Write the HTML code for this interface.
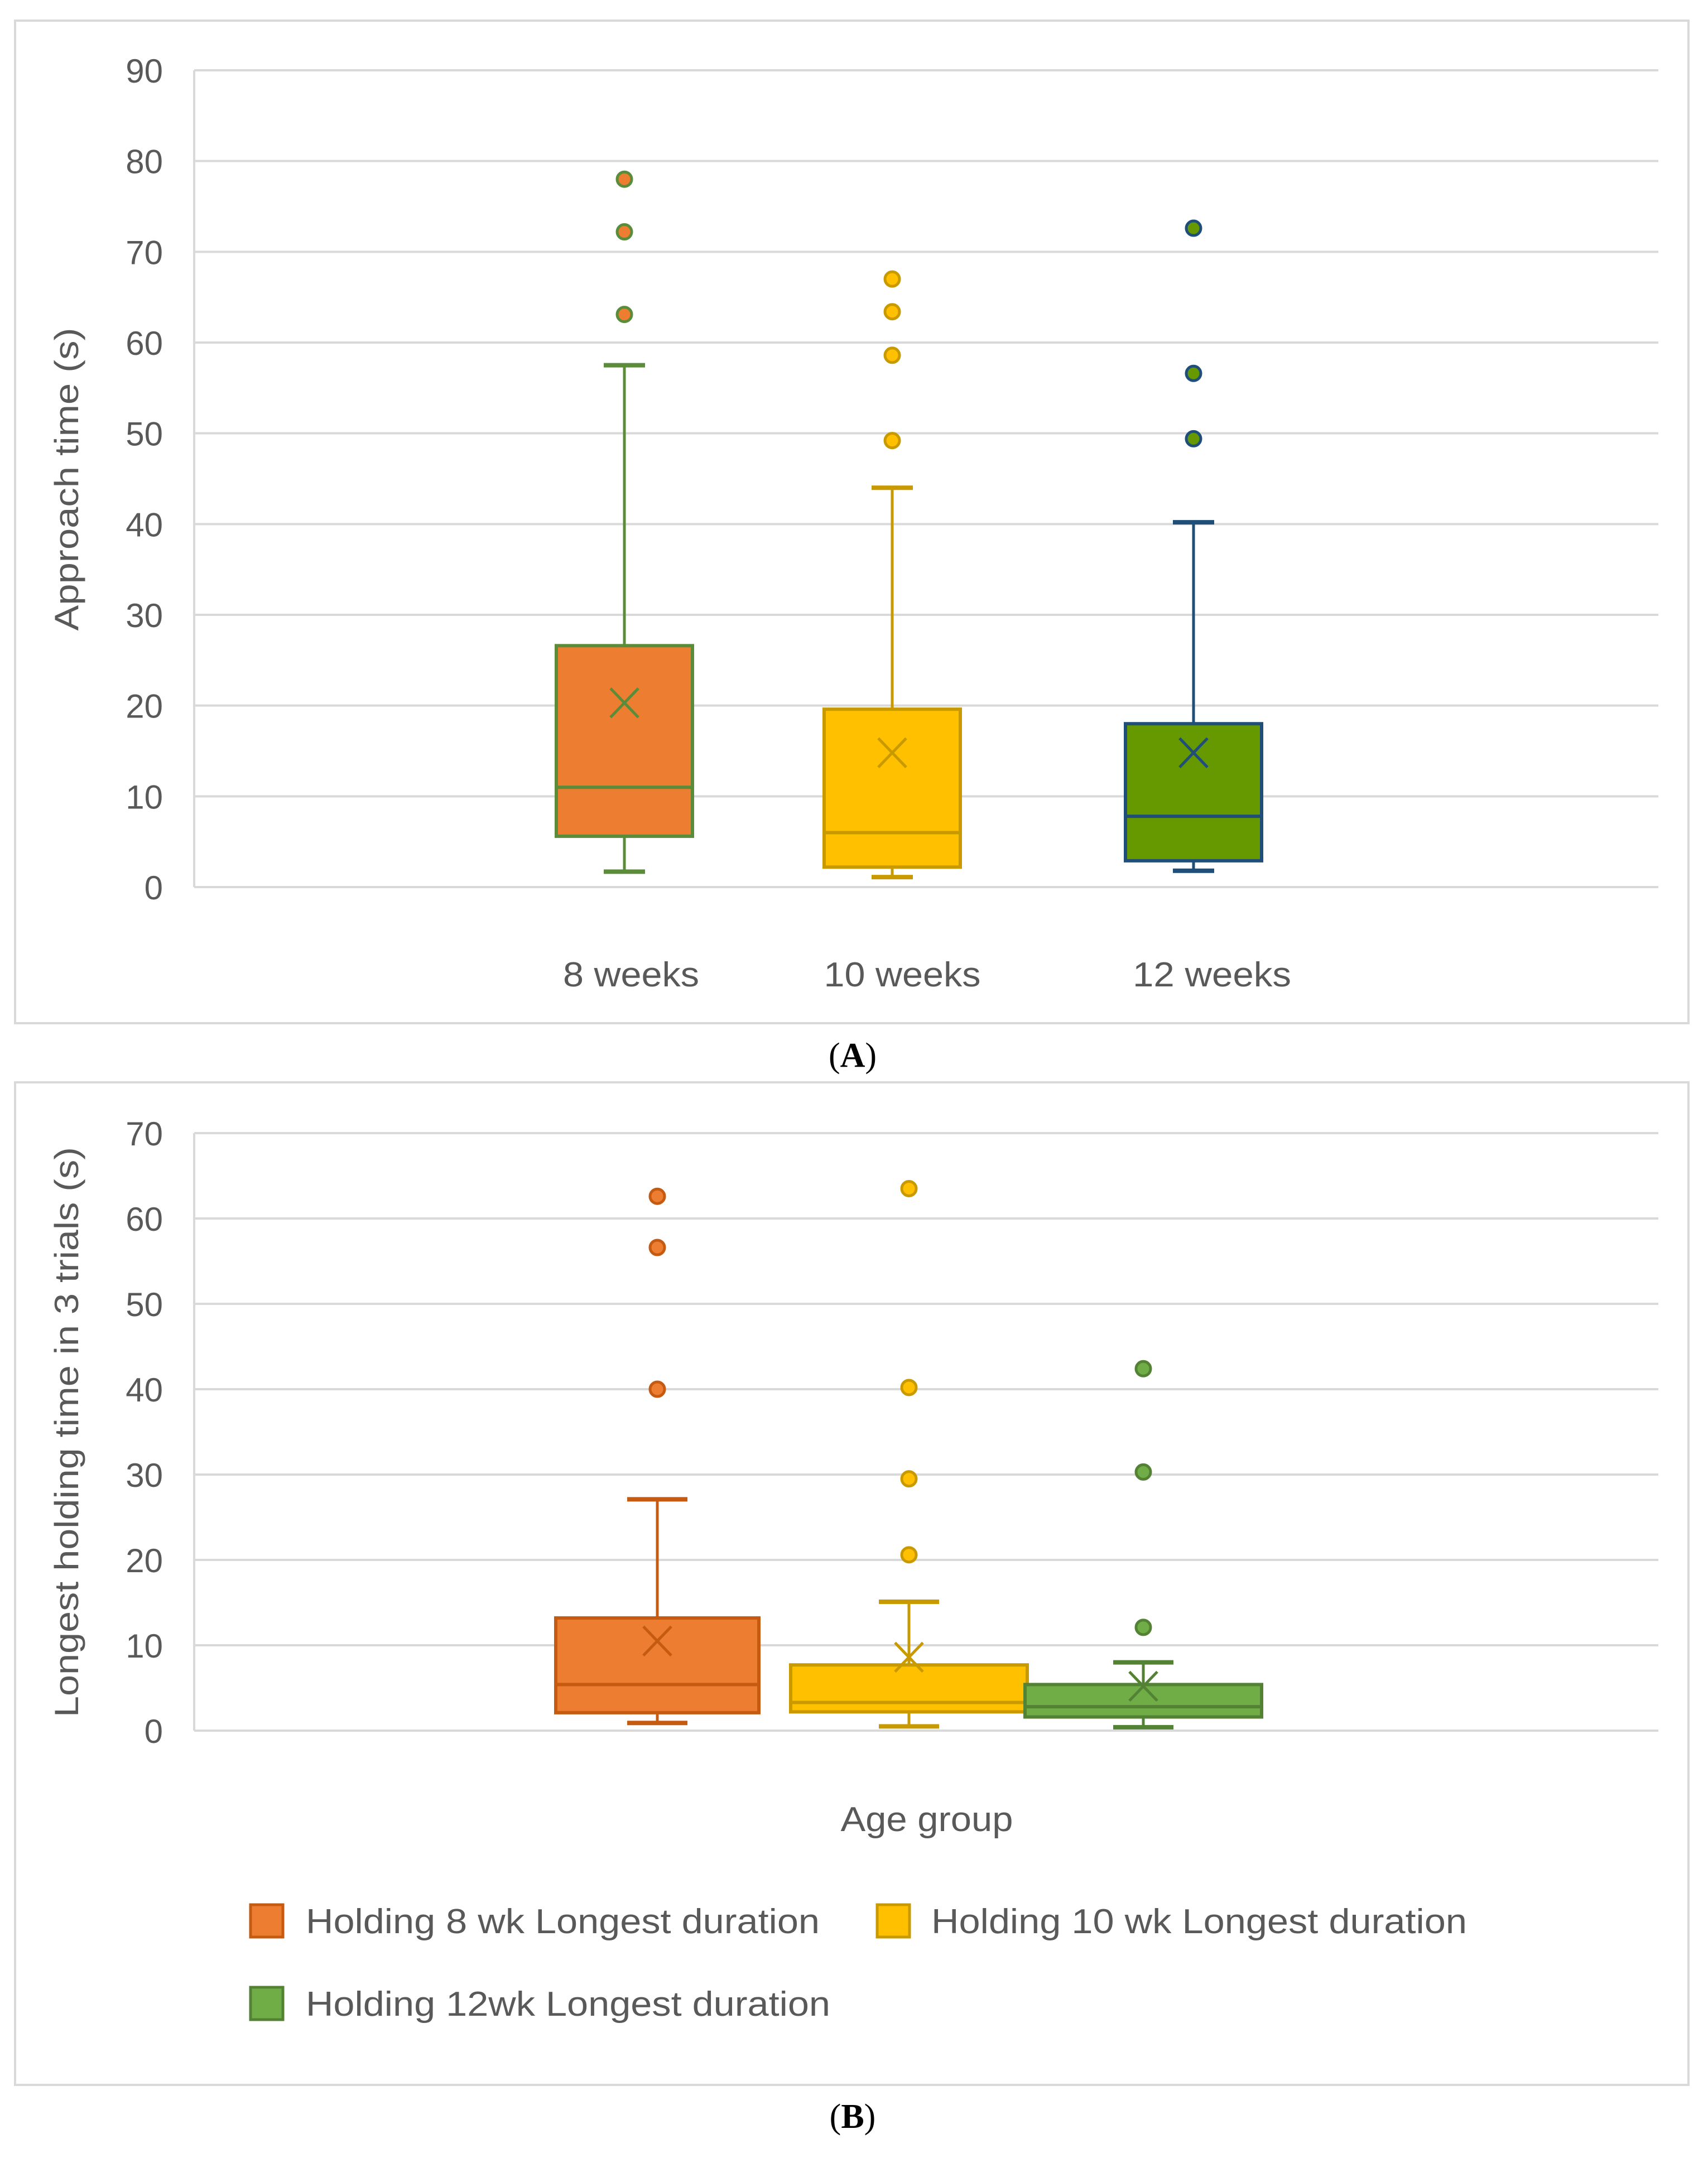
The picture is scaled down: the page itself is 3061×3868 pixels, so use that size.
<!DOCTYPE html>
<html><head><meta charset="utf-8">
<style>
html,body{margin:0;padding:0;background:#fff;}
svg{display:block;}
text{font-family:"Liberation Sans",sans-serif;}
</style></head>
<body>
<svg id="chart" width="3061" height="3868" viewBox="0 0 3061 3868" xmlns="http://www.w3.org/2000/svg">
<rect x="0" y="0" width="3061" height="3868" fill="#fff"/>
<rect x="27" y="37" width="2999" height="1797" fill="#fff" stroke="#d9d9d9" stroke-width="4"/>
<rect x="27" y="1940" width="2999" height="1797" fill="#fff" stroke="#d9d9d9" stroke-width="4"/>
<g id="gA"></g>
<g id="gB"></g>
<text x="1528" y="1912" text-anchor="middle" font-size="62" style="font-family:'Liberation Serif',serif">(<tspan font-weight="bold">A</tspan>)</text>
<text x="1528" y="3814" text-anchor="middle" font-size="62" style="font-family:'Liberation Serif',serif">(<tspan font-weight="bold">B</tspan>)</text>
<text transform="translate(140,859) rotate(-90)" text-anchor="middle" font-size="60" fill="#595959" textLength="543" lengthAdjust="spacingAndGlyphs">Approach time (s)</text>
<text transform="translate(140,2567) rotate(-90)" text-anchor="middle" font-size="60" fill="#595959" textLength="1022" lengthAdjust="spacingAndGlyphs">Longest holding time in 3 trials (s)</text>
<text x="1661" y="3282" text-anchor="middle" font-size="62" fill="#595959" textLength="309" lengthAdjust="spacingAndGlyphs">Age group</text>
<g>
<g><rect x="449" y="3414" width="58" height="58" fill="#ED7D31" stroke="#C55A11" stroke-width="5"/><text x="548" y="3465" font-size="62" fill="#595959" textLength="921" lengthAdjust="spacingAndGlyphs">Holding 8 wk Longest duration</text></g>
<g><rect x="1572" y="3414" width="58" height="58" fill="#FFC000" stroke="#C99A00" stroke-width="5"/><text x="1669" y="3465" font-size="62" fill="#595959" textLength="960" lengthAdjust="spacingAndGlyphs">Holding 10 wk Longest duration</text></g>
<g><rect x="449" y="3562" width="58" height="58" fill="#70AD47" stroke="#548235" stroke-width="5"/><text x="548" y="3613" font-size="62" fill="#595959" textLength="940" lengthAdjust="spacingAndGlyphs">Holding 12wk Longest duration</text></g>
</g>
</svg>
<script>
// Panel A data
const catsA = ["8 weeks","10 weeks","12 weeks"];
const minA = [1.7, 1.1, 1.8];
const q1A = [5.6, 2.2, 2.9];
const medA = [11, 6, 7.8];
const q3A = [26.6, 19.6, 18];
const maxA = [57.5, 44, 40.2];
const meanA = [20.3, 14.8, 14.8];
const outA = [[78, 72.2, 63.1],[67, 63.4, 58.6, 49.2],[72.6, 56.6, 49.4]];
const ticksA = [0,10,20,30,40,50,60,70,80,90];
// Panel B data
const catsB = ["8 wk","10 wk","12wk"];
const minB = [0.9, 0.5, 0.4];
const q1B = [2.1, 2.2, 1.6];
const medB = [5.4, 3.3, 2.8];
const q3B = [13.2, 7.7, 5.4];
const maxB = [27.1, 15.1, 8.0];
const meanB = [10.5, 8.6, 5.2];
const outB = [[62.6, 56.6, 40],[63.5, 40.2, 29.5, 20.6],[42.4, 30.3, 12.1]];
const ticksB = [0,10,20,30,40,50,60,70];

const NS="http://www.w3.org/2000/svg";
function mk(parent, tag, attrs){const e=document.createElementNS(NS,tag);for(const k in attrs)e.setAttribute(k,attrs[k]);parent.appendChild(e);return e;}

function drawPanel(g, cfg){
  const y=v=>cfg.y0-(v-0)*(cfg.y0-cfg.yTop)/cfg.vmax;
  cfg.ticks.forEach(t=>{
    const l=mk(g,"line",{x1:348,x2:2972,y1:y(t),y2:y(t),stroke:"#d9d9d9","stroke-width":4});
    
    
    const tx=mk(g,"text",{x:292,y:y(t)+22,"text-anchor":"end","font-size":60,fill:"#595959"});
    tx.textContent=t;
    
    
  });
  mk(g,"line",{x1:348,x2:348,y1:cfg.yTop,y2:cfg.y0,stroke:"#d9d9d9","stroke-width":4});
  cfg.cats.forEach((c,i)=>{
    const cx=cfg.cx[i], hw=cfg.hw[i], st=cfg.stroke[i], f=cfg.fill[i];
    const grp=mk(g,"g",{});
    
    
    mk(grp,"line",{x1:cx,x2:cx,y1:y(cfg.max[i]),y2:y(cfg.q3[i]),stroke:st,"stroke-width":5});
    mk(grp,"line",{x1:cx,x2:cx,y1:y(cfg.q1[i]),y2:y(cfg.min[i]),stroke:st,"stroke-width":5});
    mk(grp,"line",{x1:cx-cfg.cap,x2:cx+cfg.cap,y1:y(cfg.max[i]),y2:y(cfg.max[i]),stroke:st,"stroke-width":8});
    mk(grp,"line",{x1:cx-cfg.cap,x2:cx+cfg.cap,y1:y(cfg.min[i]),y2:y(cfg.min[i]),stroke:st,"stroke-width":8});
    mk(grp,"rect",{x:cx-hw,y:y(cfg.q3[i]),width:2*hw,height:y(cfg.q1[i])-y(cfg.q3[i]),fill:f,stroke:st,"stroke-width":6});
    mk(grp,"line",{x1:cx-hw,x2:cx+hw,y1:y(cfg.med[i]),y2:y(cfg.med[i]),stroke:st,"stroke-width":6});
    const my=y(cfg.mean[i]);
    mk(grp,"path",{d:`M${cx-25} ${my-26} L${cx+25} ${my+26} M${cx+25} ${my-26} L${cx-25} ${my+26}`,stroke:st,"stroke-width":5,fill:"none"});
    cfg.out[i].forEach(v=>{
      const o=mk(grp,"circle",{cx:cx,cy:y(v),r:13,fill:cfg.ofill[i],stroke:st,"stroke-width":5});
      
      
    });
    if(cfg.labels){
      const t=mk(g,"text",{x:cfg.lx[i],y:1768,"text-anchor":"middle","font-size":62,fill:"#595959",textLength:cfg.lw[i],lengthAdjust:"spacingAndGlyphs"});
      t.textContent=c;
      
      
    }
  });
}
drawPanel(document.getElementById('gA'),{
  y0:1590,yTop:126,vmax:90,ticks:ticksA,cats:catsA,
  cx:[1119,1599,2139],hw:[122,122,122],cap:37,lx:[1131,1617,2172],lw:[244,281,284],labels:true,
  fill:["#ED7D31","#FFC000","#669900"],ofill:["#ED7D31","#FFC000","#669900"],
  stroke:["#5B8C3A","#C99A00","#1F4E79"],
  min:minA,q1:q1A,med:medA,q3:q3A,max:maxA,mean:meanA,out:outA
});
drawPanel(document.getElementById('gB'),{
  y0:3102,yTop:2031,vmax:70,ticks:ticksB,cats:catsB,
  cx:[1178,1629,2049],hw:[182,212,212],cap:54,labels:false,
  fill:["#ED7D31","#FFC000","#70AD47"],ofill:["#ED7D31","#FFC000","#70AD47"],
  stroke:["#C55A11","#C99A00","#548235"],
  min:minB,q1:q1B,med:medB,q3:q3B,max:maxB,mean:meanB,out:outB
});
</script>
</body></html>
